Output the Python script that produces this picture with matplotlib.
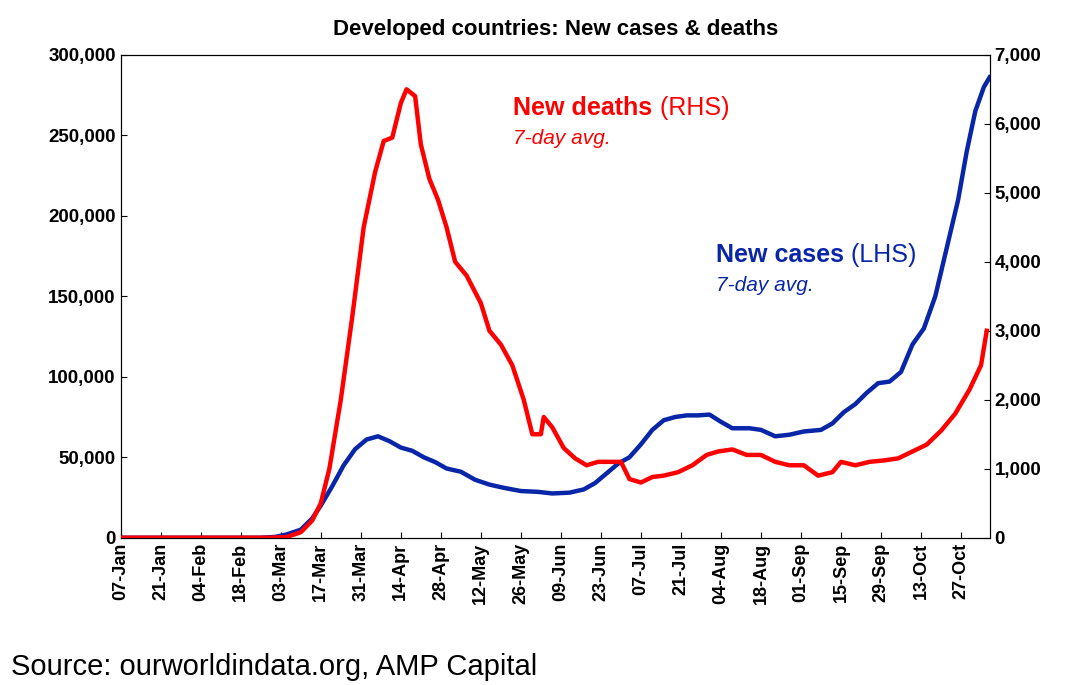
import numpy as np
import pandas as pd
import matplotlib
matplotlib.use("Agg")
import matplotlib.pyplot as plt
import matplotlib.dates as mdates

plt.rcParams["font.family"] = ["Liberation Sans", "DejaVu Sans"]

# ── data (2020) ───────────────────────────────────────────────────────────────
case_dates = ["01-07", "02-25", "03-01", "03-05", "03-10", "03-14", "03-17", "03-21", "03-25",
              "03-29", "04-02", "04-06", "04-10", "04-14", "04-18", "04-22", "04-26", "04-30",
              "05-05", "05-10", "05-15", "05-20", "05-26", "06-01", "06-06", "06-12", "06-17",
              "06-21", "06-25", "06-29", "07-03", "07-07", "07-11", "07-15", "07-19", "07-23",
              "07-27", "07-31", "08-04", "08-08", "08-14", "08-18", "08-23", "08-28", "09-02",
              "09-08", "09-12", "09-16", "09-20", "09-24", "09-28", "10-02", "10-06", "10-10",
              "10-14", "10-18", "10-22", "10-26", "10-29", "11-01", "11-04", "11-06"]
cases = [0, 0, 500, 2000, 5000, 12000, 20000, 32000, 45000,
         55000, 61000, 63000, 60000, 56000, 54000, 50000, 47000, 43000,
         41000, 36000, 33000, 31000, 29000, 28500, 27500, 28000, 30000,
         34000, 40000, 46000, 50000, 58000, 67000, 73000, 75000, 76000,
         76000, 76500, 72000, 68000, 68000, 67000, 63000, 64000, 66000,
         67000, 71000, 78000, 83000, 90000, 96000, 97000, 103000, 120000,
         130000, 150000, 180000, 210000, 240000, 265000, 280000, 286000]

death_dates = ["01-07", "02-28", "03-05", "03-10", "03-14", "03-17", "03-20", "03-24", "03-28",
               "04-01", "04-05", "04-08", "04-11", "04-14", "04-16", "04-19", "04-21", "04-24",
               "04-27", "04-30", "05-03", "05-07", "05-12", "05-15", "05-19", "05-23", "05-27",
               "05-30", "06-02", "06-03", "06-06", "06-10", "06-14", "06-18", "06-22", "06-26",
               "06-30", "07-03", "07-07", "07-11", "07-15", "07-20", "07-25", "07-30", "08-03",
               "08-08", "08-13", "08-18", "08-23", "08-28", "09-02", "09-07", "09-12", "09-15",
               "09-20", "09-25", "09-30", "10-05", "10-10", "10-15", "10-20", "10-25", "10-30",
               "11-03", "11-05"]
deaths = [0, 0, 10, 80, 250, 500, 1000, 2000, 3200,
          4500, 5300, 5750, 5800, 6300, 6500, 6400, 5700, 5200,
          4900, 4500, 4000, 3800, 3400, 3000, 2800, 2500, 2000,
          1500, 1500, 1750, 1600, 1300, 1150, 1050, 1100, 1100,
          1100, 850, 800, 880, 900, 950, 1050, 1200, 1250,
          1280, 1200, 1200, 1100, 1050, 1050, 900, 950, 1100,
          1050, 1100, 1120, 1150, 1250, 1350, 1550, 1800, 2150,
          2500, 3000]

cx = pd.to_datetime(["2020-" + d for d in case_dates])
dx = pd.to_datetime(["2020-" + d for d in death_dates])

RED, BLUE = "#ff0000", "#0a26a8"

fig = plt.figure(figsize=(10.78, 6.85), dpi=100)
ax = fig.add_axes([0.112, 0.215, 0.806, 0.705])
ax2 = ax.twinx()

ax.plot(cx, cases, color=BLUE, lw=3.2, zorder=3)
ax2.plot(dx, deaths, color=RED, lw=3.2, zorder=3)

ax.set_ylim(0, 300000)
ax2.set_ylim(0, 7000)
ax.set_xlim(pd.Timestamp("2020-01-07"), pd.Timestamp("2020-11-06"))
ax.set_yticks(np.arange(0, 300001, 50000))
ax.yaxis.set_major_formatter(matplotlib.ticker.FuncFormatter(lambda v, p: f"{int(v):,}"))
ax2.set_yticks(np.arange(0, 7001, 1000))
ax2.yaxis.set_major_formatter(matplotlib.ticker.FuncFormatter(lambda v, p: f"{int(v):,}"))

ticks = pd.date_range("2020-01-07", "2020-11-06", freq="14D")
ax.set_xticks(ticks)
ax.xaxis.set_major_formatter(mdates.DateFormatter("%d-%b"))
for lab in ax.get_xticklabels():
    lab.set_rotation(90)
    lab.set_fontweight("bold")
    lab.set_fontsize(13)
for a in (ax, ax2):
    for lab in a.get_yticklabels():
        lab.set_fontweight("bold")
        lab.set_fontsize(13.5)
    a.tick_params(direction="in", length=4)

ax.set_title("Developed countries: New cases & deaths", fontsize=16, fontweight="bold", pad=14)

def label(x, y, bold, rest, color):
    t = ax.text(x, y, bold, color=color, fontsize=18, fontweight="bold", transform=ax.transAxes)
    ax.annotate(" " + rest, xycoords=t, xy=(1, 0), va="bottom", color=color, fontsize=18)

label(0.452, 0.875, "New deaths", "(RHS)", RED)
ax.text(0.452, 0.815, "7-day avg.", color=RED, fontsize=15, style="italic", transform=ax.transAxes)
label(0.685, 0.57, "New cases", "(LHS)", BLUE)
ax.text(0.685, 0.51, "7-day avg.", color=BLUE, fontsize=15, style="italic", transform=ax.transAxes)

fig.text(0.01, 0.015, "Source: ourworldindata.org, AMP Capital", fontsize=21)

fig.savefig("out.png", dpi=100)
